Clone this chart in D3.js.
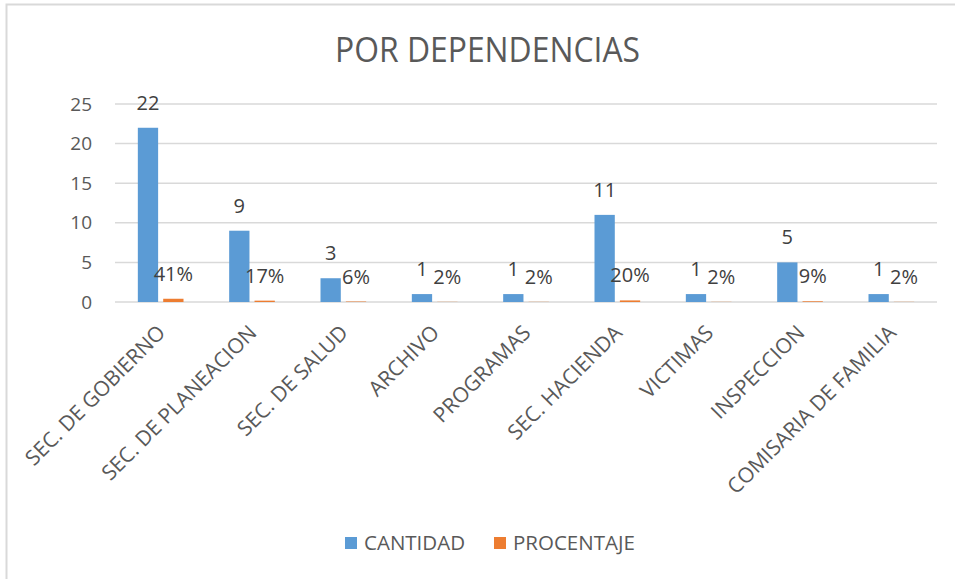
<!DOCTYPE html>
<html>
<head>
<meta charset="utf-8">
<script src="https://cdn.jsdelivr.net/npm/d3@7"></script>
<style>
	body { margin: 0; background: #fff; }
	svg { display: block; font-family: "Open Sans", sans-serif; }
</style>
</head>
<body>
<svg width="955" height="579"></svg>
<script>
// data
const categories = ["SEC. DE GOBIERNO", "SEC. DE PLANEACION", "SEC. DE SALUD", "ARCHIVO", "PROGRAMAS",
	"SEC. HACIENDA", "VICTIMAS", "INSPECCION", "COMISARIA DE FAMILIA"];
const series = ["CANTIDAD", "PROCENTAJE"];
const cantidad = [22, 9, 3, 1, 1, 11, 1, 5, 1];
const porcentaje = [0.41, 0.17, 0.06, 0.02, 0.02, 0.20, 0.02, 0.09, 0.02];
const yTicks = [0, 5, 10, 15, 20, 25];
const colors = ["#5b9bd5", "#ed7d31"];

const svg = d3.select("svg");
const plotLeft = 115, plotRight = 937, plotTop = 104, plotBottom = 302;

// chart area border (only top/left are inside the picture)
svg.append("rect")
	.attr("x", 6.5).attr("y", 4.5)
	.attr("width", 1200).attr("height", 1200)
	.attr("fill", "none")
	.attr("stroke", "#d9d9d9")
	.attr("stroke-width", 2);

svg.append("text")
	.attr("x", 487.5).attr("y", 62)
	.attr("text-anchor", "middle")
	.attr("font-size", 35)
	.attr("textLength", 305)
	.attr("lengthAdjust", "spacingAndGlyphs")
	.attr("fill", "#595959")
	.text("POR DEPENDENCIAS");

const x0 = d3.scaleBand().domain(categories).range([plotLeft, plotRight]).paddingInner(0.5).paddingOuter(0.25);
const x1 = d3.scaleBand().domain(series).range([0, x0.bandwidth()]).paddingInner(0.2);
const y = d3.scaleLinear().domain([0, 25]).range([plotBottom, plotTop]);

// gridlines
svg.append("g")
	.selectAll("line")
	.data(yTicks)
	.enter().append("line")
	.attr("x1", plotLeft).attr("x2", plotRight)
	.attr("y1", (d) => y(d)).attr("y2", (d) => y(d))
	.attr("stroke", "#d9d9d9")
	.attr("stroke-width", 1.5);

// y axis labels
const yAxis = svg.append("g")
	.attr("transform", "translate(92,0)")
	.call(d3.axisLeft(y).tickValues(yTicks).tickSize(0).tickPadding(0));
yAxis.select(".domain").remove();
yAxis.selectAll("text")
	.attr("font-size", 19)
	.attr("font-family", "Open Sans, sans-serif")
	.attr("fill", "#595959");

const rows = categories.map((c, i) => ({ cat: c, values: [cantidad[i], porcentaje[i]] }));
const fmtPct = d3.format(".0%");

const groups = svg.append("g")
	.selectAll("g")
	.data(rows)
	.enter().append("g")
	.attr("transform", (d) => "translate(" + x0(d.cat) + ",0)");

groups.selectAll("rect")
	.data((d) => d.values.map((v, k) => ({ key: series[k], value: v, k: k })))
	.enter().append("rect")
	.attr("x", (d) => x1(d.key))
	.attr("width", x1.bandwidth())
	.attr("y", (d) => y(d.value))
	.attr("height", (d) => plotBottom - y(d.value))
	.attr("fill", (d) => colors[d.k]);

groups.selectAll("text")
	.data((d) => d.values.map((v, k) => ({ key: series[k], value: v, k: k })))
	.enter().append("text")
	.attr("x", (d) => x1(d.key) + x1.bandwidth() / 2)
	.attr("y", (d) => y(d.value) - 18)
	.attr("text-anchor", "middle")
	.attr("font-size", 20)
	.attr("fill", "#404040")
	.text((d) => d.k === 0 ? d.value : fmtPct(d.value));

// category labels, rotated
svg.append("g")
	.selectAll("text")
	.data(categories)
	.enter().append("text")
	.attr("transform", (d) => "translate(" + (x0(d) + x0.bandwidth() / 2 + 6) + ",334) rotate(-45)")
	.attr("text-anchor", "end")
	.attr("font-size", 21)
	.attr("fill", "#595959")
	.text((d) => d);

// legend
const legend = svg.append("g");
const legendX = [345, 494];
series.forEach((s, i) => {
	legend.append("rect")
		.attr("x", legendX[i]).attr("y", 537)
		.attr("width", 12).attr("height", 12)
		.attr("fill", colors[i]);
	legend.append("text")
		.attr("x", legendX[i] + 19).attr("y", 550)
		.attr("font-size", 20.5)
		.attr("fill", "#595959")
		.text(s);
});
</script>
</body>
</html>
